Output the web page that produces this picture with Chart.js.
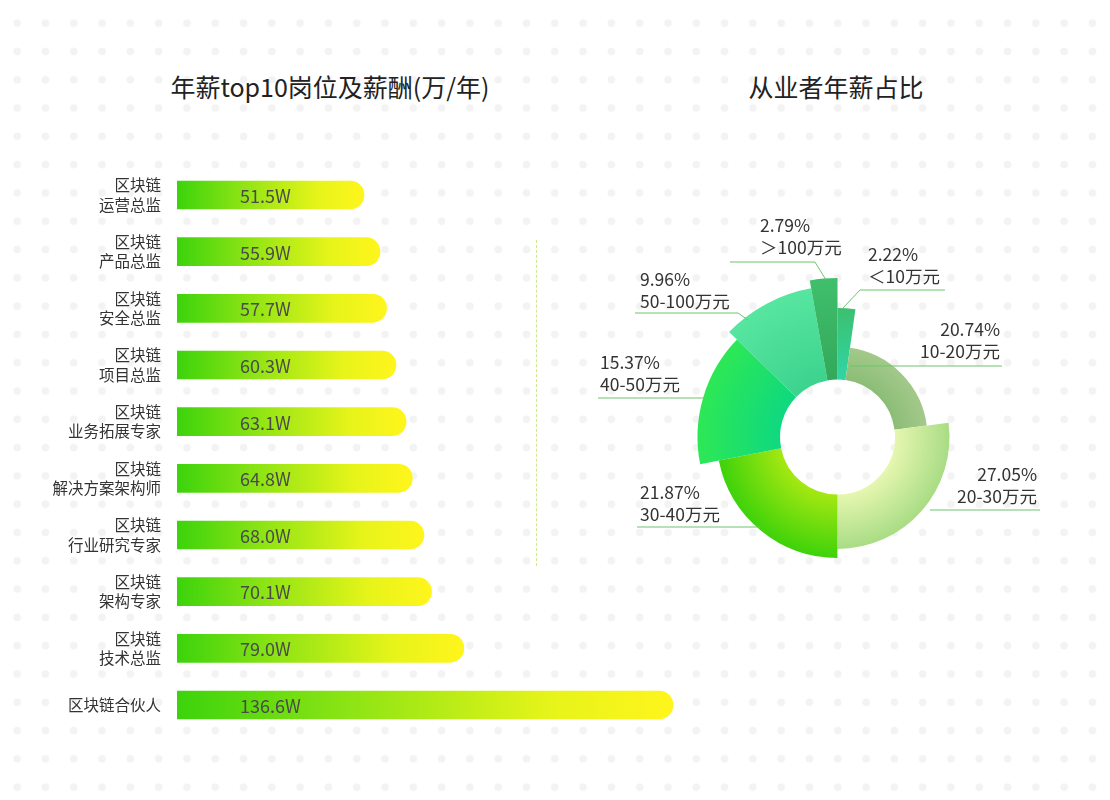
<!DOCTYPE html>
<html><head><meta charset="utf-8">
<script src="https://cdn.jsdelivr.net/npm/chart.js@4"></script>
<style>
html,body{margin:0;padding:0;}
body{width:1110px;height:800px;position:relative;overflow:hidden;font-family:"Noto Sans CJK SC","Noto Sans",sans-serif;
background-color:#fff;background-image:radial-gradient(circle,#f3f3f3 3.6px,transparent 4.2px);background-size:28.3px 28.3px;background-position:3px 9px;}
.title{position:absolute;top:68px;font-size:25px;color:#222;font-weight:400;text-align:center;width:500px;}
#dash{position:absolute;left:536px;top:240px;height:326px;border-left:1.5px dashed #cfe88a;}
canvas{position:absolute;}
</style></head><body>
<div class="title" style="left:80px">年薪top10岗位及薪酬(万/年)</div>
<div class="title" style="left:586px">从业者年薪占比</div>
<div id="dash"></div>
<canvas id="bar" style="left:0;top:0"></canvas>
<canvas id="pie" style="left:550px;top:37px"></canvas>
<script>
// ---- data ----
const jobNames = [["区块链","运营总监"],["区块链","产品总监"],["区块链","安全总监"],["区块链","项目总监"],["区块链","业务拓展专家"],["区块链","解决方案架构师"],["区块链","行业研究专家"],["区块链","架构专家"],["区块链","技术总监"],"区块链合伙人"];
const salaries = [51.5,55.9,57.7,60.3,63.1,64.8,68.0,70.1,79.0,136.6];
const shareNames = ["＜10万元","10-20万元","20-30万元","30-40万元","40-50万元","50-100万元","＞100万元"];
const sharePct = [2.22,20.74,27.05,21.87,15.37,9.96,2.79];

// ---- styles ----
const sliceRadius = [129,90,112,121,140,151,159];
const sliceColors = [["#2fd6a6","#3cc070"],["#8bbd76","#a3c98a"],["#e6f7b0","#a9dc84"],["#a6e812","#3ed20a"],["#0fd880","#2de855"],["#3cd38e","#57e6a0"],["#33a85a","#3fbf6c"]];
const labelPos = [
 {x:868,y:257,align:"left",line:[[843,308],[860,290],[945,290]]},
 {x:1000,y:332,align:"right",line:[[850,366],[1002,366]]},
 {x:1037,y:477,align:"right",line:[[930,510],[1040,510]]},
 {x:640,y:495,align:"left",line:[[637,527],[760,527]]},
 {x:600,y:365,align:"left",line:[[598,398],[705,398]]},
 {x:640,y:282,align:"left",line:[[635,313],[738,313],[748,320]]},
 {x:760,y:228,align:"left",line:[[730,262],[815,262],[826,280]]}
];

Chart.defaults.font.family='"Noto Sans CJK SC","Noto Sans",sans-serif';
Chart.defaults.animation=false;

const bc=document.getElementById('bar');
bc.width=700;bc.height=800;bc.style.width='700px';bc.style.height='800px';
new Chart(bc,{type:'bar',
 data:{labels:jobNames,datasets:[{data:salaries,barThickness:28,borderSkipped:'start',
  borderRadius:{topRight:14,bottomRight:14,topLeft:0,bottomLeft:0},
  backgroundColor:(ctx)=>{const ch=ctx.chart;const ca=ch.chartArea;const sx=ch.scales&&ch.scales.x;
   if(!ca||!sx)return '#8e2';const x0=ca.left,x1=sx.getPixelForValue(salaries[ctx.dataIndex]);
   if(!isFinite(x0)||!isFinite(x1)||x1<=x0)return '#8e2';
   const g=ch.ctx.createLinearGradient(x0,0,x1,0);
   g.addColorStop(0,'#3cd30c');g.addColorStop(0.35,'#8ee414');g.addColorStop(0.75,'#e6f41a');g.addColorStop(1,'#fff51c');return g;}}]},
 options:{indexAxis:'y',responsive:false,maintainAspectRatio:false,
  layout:{padding:{top:166.7,bottom:66.7,left:0,right:14.7}},
  plugins:{legend:{display:false},tooltip:{enabled:false}},
  scales:{x:{display:false,min:0,max:140},
   y:{grid:{display:false},border:{display:false},afterFit:(s)=>{s.width=177;},
    ticks:{color:'#333',font:{size:15.5,lineHeight:1.25},padding:8}}}},
 plugins:[{id:'vals',afterDatasetsDraw(ch){const c=ch.ctx;c.save();c.font='18px "Noto Sans CJK SC"';c.fillStyle='#4a4a4a';c.textBaseline='middle';
  ch.getDatasetMeta(0).data.forEach((el,i)=>{c.fillText(salaries[i].toFixed(1)+'W',ch.chartArea.left+63,el.y+1);});c.restore();}}]
});

const pc=document.getElementById('pie');
pc.width=575;pc.height=800;pc.style.width='575px';pc.style.height='800px';
const OX=550,OY=37;
new Chart(pc,{type:'doughnut',
 data:{labels:shareNames,datasets:[{data:sharePct,borderWidth:0,
  backgroundColor:(ctx)=>{const ch=ctx.chart;const cx=287.5,cy=400;const i=ctx.dataIndex;
   const g=ch.ctx.createRadialGradient(cx,cy,57,cx,cy,sliceRadius[i]);g.addColorStop(0,sliceColors[i][0]);g.addColorStop(1,sliceColors[i][1]);return g;}}]},
 options:{responsive:false,maintainAspectRatio:false,cutout:57.5,radius:160,
  plugins:{legend:{display:false},tooltip:{enabled:false}}},
 plugins:[{id:'rad',afterDatasetsUpdate(ch){ch.getDatasetMeta(0).data.forEach((el,i)=>{el.outerRadius=sliceRadius[i];el.innerRadius=57.5;});},
  afterDatasetsDraw(ch){const c=ch.ctx;c.save();c.strokeStyle='#6cc56a';c.lineWidth=1;
   c.font='17.5px "Noto Sans CJK SC"';c.fillStyle='#333';c.textBaseline='top';
   labelPos.forEach((p,i)=>{c.beginPath();p.line.forEach((pt,k)=>{const x=pt[0]-OX,y=pt[1]-OY;k?c.lineTo(x,y):c.moveTo(x,y);});c.stroke();
    c.textAlign=p.align;c.fillText(sharePct[i].toFixed(2)+'%',p.x-OX,p.y-OY-11);c.fillText(shareNames[i],p.x-OX,p.y-OY+11);});
   c.restore();}}]
});
</script></body></html>
